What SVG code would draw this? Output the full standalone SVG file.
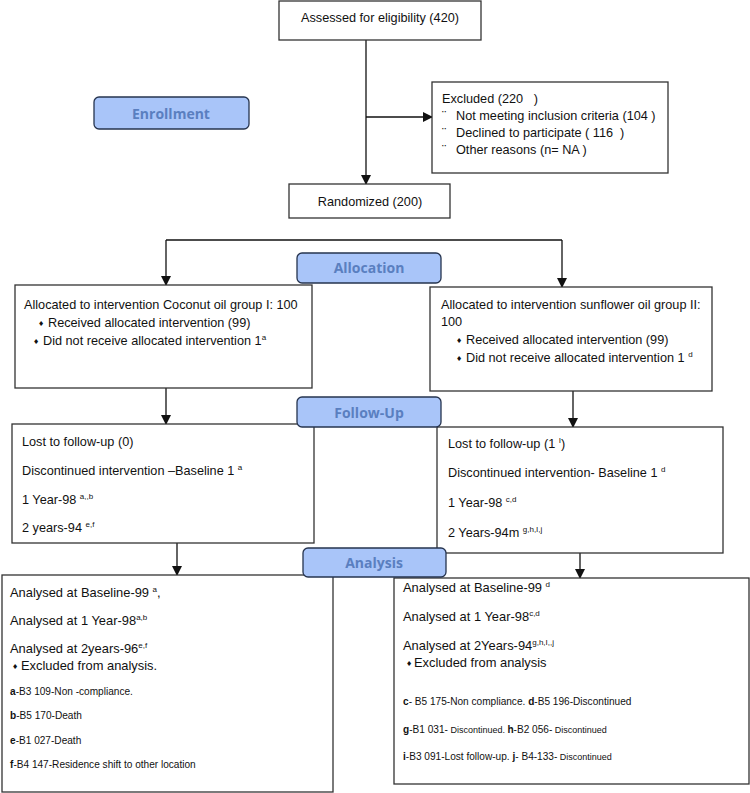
<svg xmlns="http://www.w3.org/2000/svg" width="750" height="793" viewBox="0 0 750 793">
<style>
.box{fill:#fff;stroke:#333;stroke-width:1.3}
.hdr{fill:#a9c5f9;stroke:#26344f;stroke-width:1.3}
.ht{font-family:"Open Sans","Liberation Sans",sans-serif;font-weight:bold;font-size:14px;fill:#5a7fc0;text-anchor:middle}
.t{font-family:"Liberation Sans",Arial,sans-serif;font-size:12.7px;fill:#111}
.ta{font-family:"Liberation Sans",Arial,sans-serif;font-size:12.9px;fill:#111}
.s{font-family:"Liberation Sans",Arial,sans-serif;font-size:10.1px;fill:#111}
.sup{font-size:8px}
.b{font-family:"DejaVu Sans",sans-serif;font-size:7px;fill:#111}
.ln{stroke:#111;stroke-width:1.3;fill:none}
</style>
<defs>
<marker id="ah" markerWidth="10" markerHeight="10" refX="9" refY="5" orient="auto" markerUnits="userSpaceOnUse">
<path d="M0,0 L10,5 L0,10 Z" fill="#111"/>
</marker>
</defs>
<g id="connectors">
<line class="ln" x1="366" y1="40" x2="366" y2="184" marker-end="url(#ah)"/>
<line class="ln" x1="366" y1="117" x2="432" y2="117" marker-end="url(#ah)"/>
<line class="ln" x1="166" y1="240" x2="562" y2="240"/>
<line class="ln" x1="166" y1="240" x2="166" y2="285" marker-end="url(#ah)"/>
<line class="ln" x1="562" y1="240" x2="562" y2="287" marker-end="url(#ah)"/>
<line class="ln" x1="166" y1="388" x2="166" y2="424" marker-end="url(#ah)"/>
<line class="ln" x1="573" y1="391" x2="573" y2="427" marker-end="url(#ah)"/>
<line class="ln" x1="177" y1="543" x2="177" y2="575" marker-end="url(#ah)"/>
<line class="ln" x1="580" y1="553" x2="580" y2="578" marker-end="url(#ah)"/>
</g>
<g id="assessed">
<rect class="box" x="279" y="1" width="202" height="39"/>
<text class="t" x="380" y="22" text-anchor="middle">Assessed for eligibility (420)</text>
</g>
<g id="excluded">
<rect class="box" x="432" y="82" width="236" height="91"/>
<text class="t" x="442" y="103" xml:space="preserve">Excluded (220   )</text>
<text class="t" x="442" y="120">¨</text><text class="t" x="456" y="120">Not meeting inclusion criteria (104 )</text>
<text class="t" x="442" y="137">¨</text><text class="t" x="456" y="137" xml:space="preserve">Declined to participate ( 116  )</text>
<text class="t" x="442" y="154">¨</text><text class="t" x="456" y="154">Other reasons (n= NA )</text>
</g>
<g id="randomized">
<rect class="box" x="289" y="184" width="161" height="34"/>
<text class="t" x="370" y="206" text-anchor="middle">Randomized (200)</text>
</g>
<g id="enrollment">
<rect class="hdr" x="94" y="97" width="155" height="32" rx="5"/>
<text class="ht" x="171" y="119">Enrollment</text>
</g>
<g id="alloc-left">
<rect class="box" x="15" y="285" width="297" height="103"/>
<text class="t" x="24" y="309">Allocated to intervention Coconut oil group I: 100</text>
<text class="b" x="38" y="326">♦</text><text class="t" x="48" y="327">Received allocated intervention (99)</text>
<text class="b" x="33" y="344">♦</text><text class="t" x="43" y="345">Did not receive allocated intervention 1<tspan class="sup" dy="-5">a</tspan></text>
</g>
<g id="alloc-right">
<rect class="box" x="430" y="287" width="282" height="104"/>
<text class="t" x="441" y="309">Allocated to intervention sunflower oil group II:</text>
<text class="t" x="441" y="326">100</text>
<text class="b" x="456" y="343">♦</text><text class="t" x="466" y="344">Received allocated intervention (99)</text>
<text class="b" x="456" y="361">♦</text><text class="t" x="466" y="362">Did not receive allocated intervention 1 <tspan class="sup" dy="-5">d</tspan></text>
</g>
<g id="allocation">
<rect class="hdr" x="297" y="253" width="144" height="30" rx="5"/>
<text class="ht" x="369" y="273">Allocation</text>
</g>
<g id="fu-left">
<rect class="box" x="12" y="424" width="302" height="119"/>
<text class="t" x="22" y="446">Lost to follow-up (0)</text>
<text class="t" x="22" y="475">Discontinued intervention –Baseline 1 <tspan class="sup" dy="-5">a</tspan></text>
<text class="t" x="22" y="504">1 Year-98 <tspan class="sup" dy="-5">a,,b</tspan></text>
<text class="t" x="22" y="532">2 years-94 <tspan class="sup" dy="-5">e,f</tspan></text>
</g>
<g id="fu-right">
<rect class="box" x="437" y="427" width="286" height="126"/>
<text class="t" x="448" y="448">Lost to follow-up (1 <tspan class="sup" dy="-5">I</tspan><tspan dy="5">)</tspan></text>
<text class="t" x="448" y="477">Discontinued intervention- Baseline 1 <tspan class="sup" dy="-5">d</tspan></text>
<text class="t" x="448" y="507">1 Year-98 <tspan class="sup" dy="-5">c,d</tspan></text>
<text class="t" x="448" y="537">2 Years-94m <tspan class="sup" dy="-5">g,h,I,j</tspan></text>
</g>
<g id="followup">
<rect class="hdr" x="297" y="397" width="144" height="30" rx="5"/>
<text class="ht" x="369" y="418">Follow-Up</text>
</g>
<g id="an-left">
<rect class="box" x="2" y="575" width="331" height="217"/>
<text class="ta" x="10" y="597">Analysed at Baseline-99 <tspan class="sup" dy="-5">a</tspan><tspan dy="5">,</tspan></text>
<text class="ta" x="10" y="625">Analysed at 1 Year-98<tspan class="sup" dy="-5">a,b</tspan></text>
<text class="ta" x="10" y="653">Analysed at 2years-96<tspan class="sup" dy="-5">e,f</tspan></text>
<text class="b" x="12" y="669">♦</text><text class="ta" x="21" y="670">Excluded from analysis.</text>
<text class="s" x="10" y="695"><tspan font-weight="bold">a</tspan>-B3 109-Non -compliance.</text>
<text class="s" x="10" y="719"><tspan font-weight="bold">b</tspan>-B5 170-Death</text>
<text class="s" x="10" y="744"><tspan font-weight="bold">e</tspan>-B1 027-Death</text>
<text class="s" x="10" y="768"><tspan font-weight="bold">f</tspan>-B4 147-Residence shift to other location</text>
</g>
<g id="an-right">
<rect class="box" x="394" y="578" width="355" height="206"/>
<text class="ta" x="403" y="592">Analysed at Baseline-99 <tspan class="sup" dy="-5">d</tspan></text>
<text class="ta" x="403" y="621">Analysed at 1 Year-98<tspan class="sup" dy="-5">c,d</tspan></text>
<text class="ta" x="403" y="650">Analysed at 2Years-94<tspan class="sup" dy="-5">g,h,I,,j</tspan></text>
<text class="b" x="406" y="666">♦</text><text class="ta" x="414" y="667">Excluded from analysis</text>
<text class="s" x="403" y="705"><tspan font-weight="bold">c</tspan>- B5 175-Non compliance. <tspan font-weight="bold">d</tspan>-B5 196-Discontinued</text>
<text class="s" x="403" y="733"><tspan font-weight="bold">g</tspan>-B1 031-<tspan font-size="9"> Discontinued. </tspan><tspan font-weight="bold">h</tspan>-B2 056-<tspan font-size="9"> Discontinued</tspan></text>
<text class="s" x="403" y="760"><tspan font-weight="bold">i</tspan>-B3 091-Lost follow-up. <tspan font-weight="bold">j</tspan>- B4-133-<tspan font-size="9"> Discontinued</tspan></text>
</g>
<g id="analysis">
<rect class="hdr" x="303" y="548" width="143" height="29" rx="5"/>
<text class="ht" x="374" y="568">Analysis</text>
</g>
</svg>
